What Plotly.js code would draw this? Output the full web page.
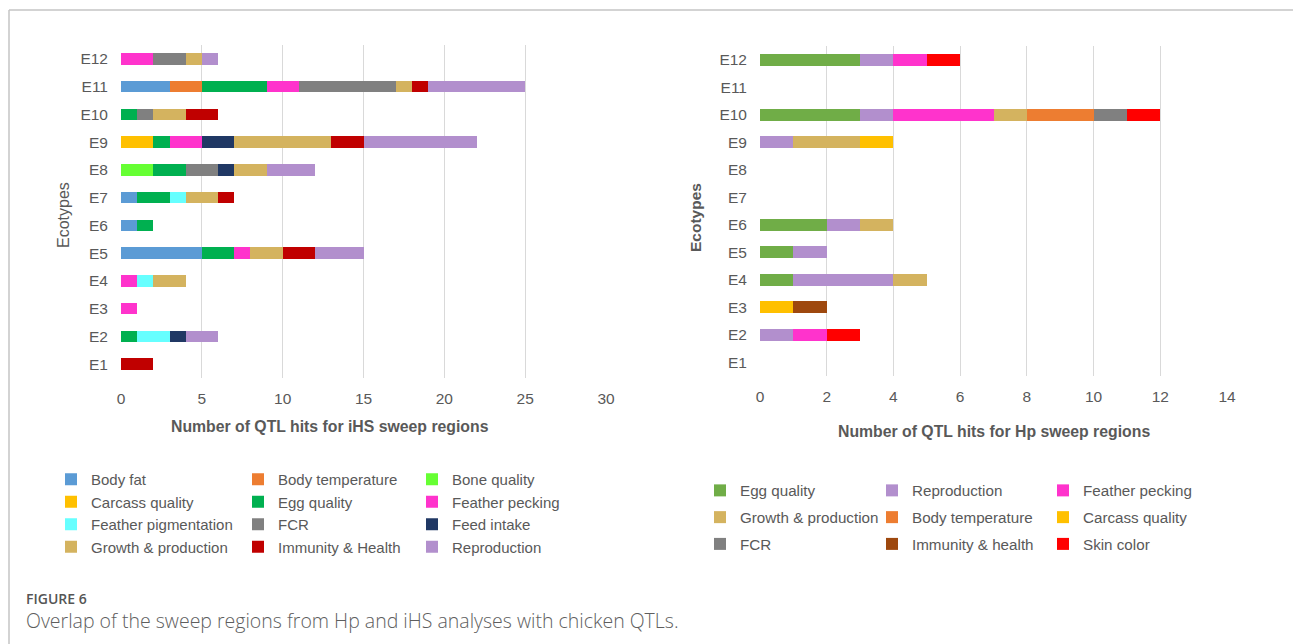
<!DOCTYPE html>
<html>
<head>
<meta charset="utf-8">
<script src="https://cdn.plot.ly/plotly-3.0.1.min.js"></script>
<style>
  html, body { margin: 0; padding: 0; background: #ffffff; }
  #chart { width: 1293px; height: 644px; }
</style>
</head>
<body>
<div id="chart"></div>
<script>
// ---------- Data ----------
const ecotypes = ["E1","E2","E3","E4","E5","E6","E7","E8","E9","E10","E11","E12"];

// Left panel: iHS sweep regions (values for E1..E12)
const ihsTraits = ["Body fat","Body temperature","Bone quality","Carcass quality","Egg quality","Feather pecking",
                   "Feather pigmentation","FCR","Feed intake","Growth & production","Immunity & Health","Reproduction"];
const ihsBodyFat      = [0,0,0,0,5,1,1,0,0,0,3,0];
const ihsBodyTemp     = [0,0,0,0,0,0,0,0,0,0,2,0];
const ihsBoneQuality  = [0,0,0,0,0,0,0,2,0,0,0,0];
const ihsCarcass      = [0,0,0,0,0,0,0,0,2,0,0,0];
const ihsEggQuality   = [0,1,0,0,2,1,2,2,1,1,4,0];
const ihsPecking      = [0,0,1,1,1,0,0,0,2,0,2,2];
const ihsPigmentation = [0,2,0,1,0,0,1,0,0,0,0,0];
const ihsFCR          = [0,0,0,0,0,0,0,2,0,1,6,2];
const ihsFeedIntake   = [0,1,0,0,0,0,0,1,2,0,0,0];
const ihsGrowth       = [0,0,0,2,2,0,2,2,6,2,1,1];
const ihsImmunity     = [2,0,0,0,2,0,1,0,2,2,1,0];
const ihsReproduction = [0,2,0,0,3,0,0,3,7,0,6,1];
const ihsColors = ["#5B9BD5","#ED7D31","#66FF33","#FFC000","#00B050","#FF33CC",
                   "#66FFFF","#808080","#203864","#D4B35F","#C00000","#B28FCD"];

// Right panel: Hp sweep regions (values for E1..E12)
const hpTraits = ["Egg quality","Reproduction","Feather pecking","Growth & production","Body temperature",
                  "Carcass quality","FCR","Immunity & health","Skin color"];
const hpEggQuality   = [0,0,0,1,1,2,0,0,0,3,0,3];
const hpReproduction = [0,1,0,3,1,1,0,0,1,1,0,1];
const hpPecking      = [0,1,0,0,0,0,0,0,0,3,0,1];
const hpGrowth       = [0,0,0,1,0,1,0,0,2,1,0,0];
const hpBodyTemp     = [0,0,0,0,0,0,0,0,0,2,0,0];
const hpCarcass      = [0,0,1,0,0,0,0,0,1,0,0,0];
const hpFCR          = [0,0,0,0,0,0,0,0,0,1,0,0];
const hpImmunity     = [0,0,1,0,0,0,0,0,0,0,0,0];
const hpSkinColor    = [0,1,0,0,0,0,0,0,0,1,0,1];
const hpColors = ["#70AD47","#B28FCD","#FF33CC","#D4B35F","#ED7D31","#FFC000","#808080","#9E480E","#FF0000"];

const xTitleLeft  = "Number of QTL hits for iHS sweep regions";
const xTitleRight = "Number of QTL hits for Hp sweep regions";
const yTitle = "Ecotypes";
const captionLabel = "FIGURE 6";
const captionText = "Overlap of the sweep regions from Hp and iHS analyses with chicken QTLs.";

// ---------- Build traces ----------
const ihsSeries = [ihsBodyFat, ihsBodyTemp, ihsBoneQuality, ihsCarcass, ihsEggQuality, ihsPecking,
                   ihsPigmentation, ihsFCR, ihsFeedIntake, ihsGrowth, ihsImmunity, ihsReproduction];
const hpSeries = [hpEggQuality, hpReproduction, hpPecking, hpGrowth, hpBodyTemp, hpCarcass,
                  hpFCR, hpImmunity, hpSkinColor];

const FONT = "Liberation Sans, Arial, sans-serif";
const TXT = "#595959";
const W = 1293, H = 644;
const px = v => v / W;
const py = v => 1 - v / H;

const traces = [];
ihsSeries.forEach((vals, i) => {
  const col = i % 3;
  traces.push({
    type: "bar", orientation: "h",
    name: ihsTraits[i], x: vals, y: ecotypes,
    xaxis: "x", yaxis: "y",
    marker: { color: ihsColors[i], line: { width: 0 } },
    legend: col === 0 ? "legend" : ("legend" + (col + 1)),
    legendgroup: "ihs" + i,
    hovertemplate: "%{y}: %{x}<extra>" + ihsTraits[i] + "</extra>"
  });
});
hpSeries.forEach((vals, i) => {
  const col = i % 3;
  traces.push({
    type: "bar", orientation: "h",
    name: hpTraits[i], x: vals, y: ecotypes,
    xaxis: "x2", yaxis: "y2",
    marker: { color: hpColors[i], line: { width: 0 } },
    legend: "legend" + (col + 4),
    legendgroup: "hp" + i,
    hovertemplate: "%{y}: %{x}<extra>" + hpTraits[i] + "</extra>"
  });
});

// ---------- Layout ----------
const xAxisBase = {
  showgrid: true, gridcolor: "#D9D9D9", gridwidth: 1,
  zeroline: false, showline: false, ticks: "",
  tickfont: { family: FONT, size: 15.5, color: TXT },
  ticklabelstandoff: 9, fixedrange: true
};
const yAxisBase = {
  type: "category", categoryorder: "array", categoryarray: ecotypes,
  showgrid: false, zeroline: false, showline: false, ticks: "",
  tickfont: { family: FONT, size: 15.5, color: TXT },
  ticklabelstandoff: 12, fixedrange: true
};

function legendAt(xText, yTop, gap, size) {
  return {
    x: px(xText - 38), xanchor: "left",
    y: py(yTop), yanchor: "top",
    orientation: "v", traceorder: "grouped", tracegroupgap: gap,
    bgcolor: "rgba(0,0,0,0)", borderwidth: 0,
    font: { family: FONT, size: size, color: TXT }
  };
}

const layout = {
  width: W, height: H,
  margin: { l: 0, r: 0, t: 0, b: 0 },
  paper_bgcolor: "#ffffff", plot_bgcolor: "#ffffff",
  barmode: "stack", bargap: 0.58,
  showlegend: true,
  xaxis: Object.assign({}, xAxisBase, { domain: [px(121), px(606)], range: [0, 30], dtick: 5, anchor: "y" }),
  yaxis: Object.assign({}, yAxisBase, { domain: [py(378), py(45)], anchor: "x" }),
  xaxis2: Object.assign({}, xAxisBase, { domain: [px(760), px(1227)], range: [0, 14], dtick: 2, anchor: "y2" }),
  yaxis2: Object.assign({}, yAxisBase, { domain: [py(376), py(46)], anchor: "x2" }),
  legend:  legendAt(89, 463, 0, 15),
  legend2: legendAt(276, 463, 0, 15),
  legend3: legendAt(450, 463, 0, 15),
  legend4: legendAt(738, 474, 4, 15.2),
  legend5: legendAt(910, 474, 4, 15.2),
  legend6: legendAt(1081, 474, 4, 15.2),
  annotations: [
    { text: "<b>" + xTitleLeft + "</b>", xref: "paper", yref: "paper", x: px(330), y: py(427),
      xanchor: "center", yanchor: "middle", showarrow: false,
      font: { family: FONT, size: 15.8, color: TXT } },
    { text: "<b>" + xTitleRight + "</b>", xref: "paper", yref: "paper", x: px(994), y: py(431),
      xanchor: "center", yanchor: "middle", showarrow: false,
      font: { family: FONT, size: 15.8, color: TXT } },
    { text: yTitle, xref: "paper", yref: "paper", x: px(63), y: py(215), textangle: -90,
      xanchor: "center", yanchor: "middle", showarrow: false,
      font: { family: FONT, size: 16, color: TXT } },
    { text: "<b>" + yTitle + "</b>", xref: "paper", yref: "paper", x: px(696), y: py(218), textangle: -90,
      xanchor: "center", yanchor: "middle", showarrow: false,
      font: { family: FONT, size: 15.5, color: TXT } },
    { text: captionLabel, xref: "paper", yref: "paper", x: px(24), y: py(598),
      xanchor: "left", yanchor: "middle", showarrow: false,
      font: { family: "Open Sans, sans-serif", size: 14, color: "#555555", weight: 600 } },
    { text: captionText, xref: "paper", yref: "paper", x: px(24), y: py(620),
      xanchor: "left", yanchor: "middle", showarrow: false,
      font: { family: "Open Sans, sans-serif", size: 19.5, color: "#5e5e5e", weight: 300 } }
  ],
  shapes: [
    { type: "line", xref: "paper", yref: "paper", x0: px(9), x1: 1, y0: py(10), y1: py(10),
      line: { color: "#C4C4C4", width: 1.5 } },
    { type: "line", xref: "paper", yref: "paper", x0: px(9), x1: px(9), y0: py(10), y1: 0,
      line: { color: "#C4C4C4", width: 1.5 } }
  ]
};

Plotly.newPlot("chart", traces, layout, { displayModeBar: false, staticPlot: false, responsive: false });
</script>
</body>
</html>
